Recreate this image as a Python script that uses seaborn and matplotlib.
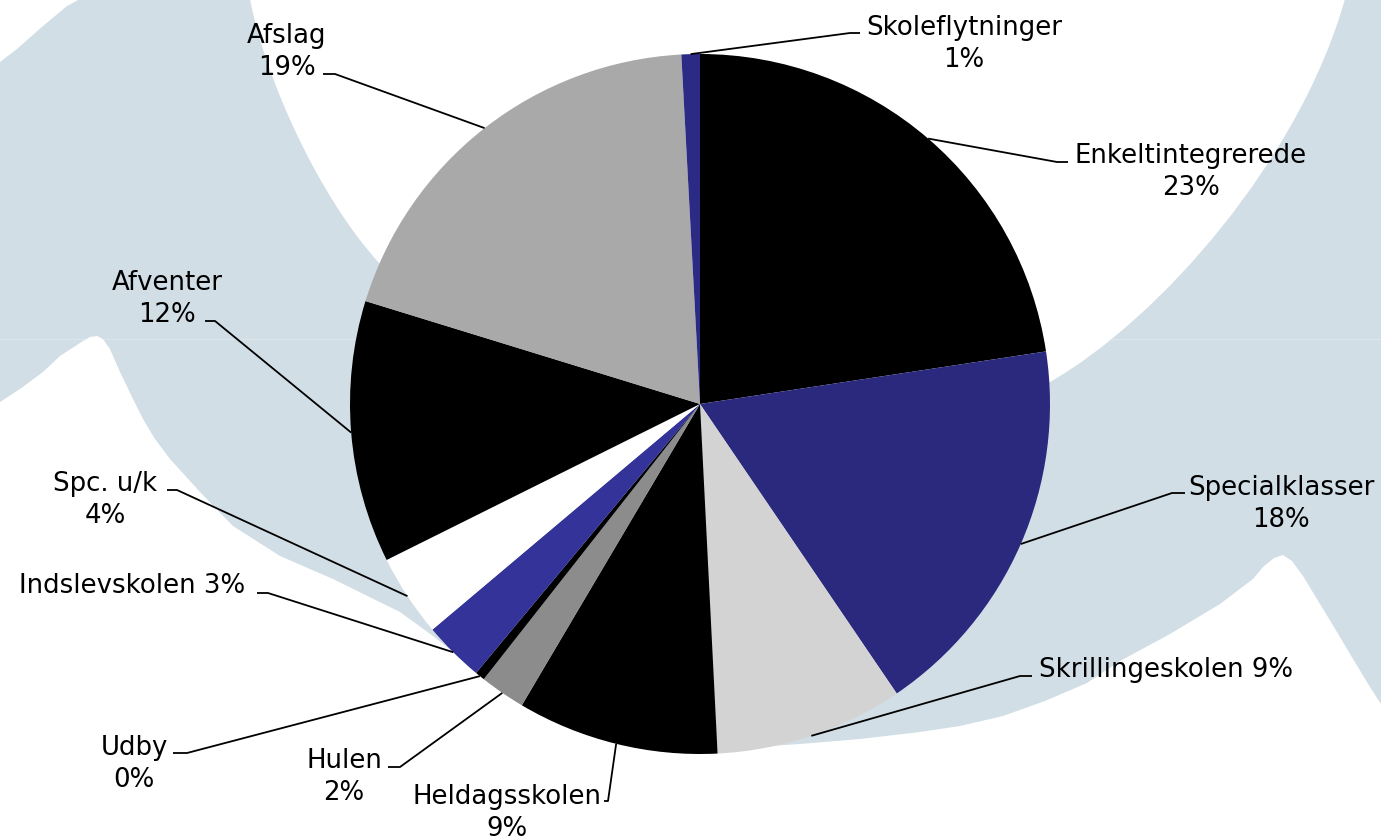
import numpy as np
import matplotlib
matplotlib.use("Agg")
import matplotlib.pyplot as plt
from matplotlib.path import Path
from matplotlib.patches import PathPatch
import seaborn as sns

# ---------------- data ----------------
categories = ["Enkeltintegrerede", "Specialklasser", "Skrillingeskolen",
              "Heldagsskolen", "Hulen", "Udby", "Indslevskolen", "Spc. u/k",
              "Afventer", "Afslag", "Skoleflytninger"]
values = [22.6, 17.9, 8.7, 9.3, 2.1, 0.45, 2.8, 3.8, 12.1, 19.4, 0.85]
colors = ["#000000", "#2A297E", "#D3D3D3", "#000000", "#8C8C8C", "#000000",
          "#333399", "#FFFFFF", "#000000", "#A9A9A9", "#2B2A85"]
separators = ["\n", "\n", " ", "\n", "\n", "\n", " ", "\n", "\n", "\n", "\n"]

# label layout in pixel coords: text centre x, first baseline y, elbow (x, y), stub end x
label_x = [1191, 1281, 1166, 507, 344, 134, 132, 105, 167, 287, 964]
label_y = [163, 495, 677, 804, 768, 755, 593, 491, 290, 43, 35]
elbow_x = [1057, 1172, 1020, 608, 400, 187, 268, 177, 215, 335, 850]
elbow_y = [163, 494, 677, 802, 768, 754, 594, 491, 322, 75, 34]
stub_x = [1068, 1185, 1032, 604, 388, 173, 257, 167, 205, 323, 860]

W, H = 1381, 837
sns.set_theme(style="white")
plt.rcParams['font.family'] = ['DejaVu Sans']

fig = plt.figure(figsize=(W / 100, H / 100), dpi=100)
fig.patch.set_facecolor("white")
ax = fig.add_axes([0, 0, 1, 1])


def P(x, y):
    return (x, H - y)


# ---------------- background watermark shape ----------------
verts = []
codes = []


def mv(p):
    verts.append(P(*p)); codes.append(Path.MOVETO)


def ln(*pts):
    for p in pts:
        verts.append(P(*p)); codes.append(Path.LINETO)


def cu(c1, c2, p):
    for q in (c1, c2, p):
        verts.append(P(*q)); codes.append(Path.CURVE4)


mv((80, 0))
ln((250, 0))
cu((265, 80), (320, 200), (380, 265))
ln((700, 405), (1050, 383))
cu((1160, 320), (1300, 160), (1345, 0))
ln((1381, 0), (1381, 705))
ln((1370, 688), (1353, 660), (1337, 633), (1320, 605), (1303, 577), (1292, 562),
   (1283, 556), (1274, 559), (1263, 568), (1253, 580), (1220, 605), (1170, 635),
   (1120, 662), (1087, 684), (1045, 702), (1003, 717), (960, 727), (920, 733),
   (860, 740), (800, 745), (740, 749))
ln((472, 668), (433, 637), (400, 613), (333, 580), (280, 557), (233, 527),
   (200, 493), (170, 460), (155, 440), (143, 420), (133, 400), (120, 373),
   (110, 350), (103, 340), (97, 337), (90, 338), (83, 342), (60, 357),
   (43, 373), (20, 390), (0, 403))
ln((0, 63), (17, 50), (43, 27), (67, 7), (80, 0))
verts.append(P(80, 0)); codes.append(Path.CLOSEPOLY)

bg = PathPatch(Path(verts, codes), facecolor="#D1DEE6", edgecolor="none", zorder=0)
ax.add_patch(bg)
seam, = ax.plot([0, W], [H - 340, H - 340], color="#DCE5EB", lw=0.8, zorder=0.5)
seam.set_clip_path(bg)

# ---------------- pie ----------------
cx, cy = P(700, 405)
R = 350
wedges, _ = ax.pie(values, colors=colors, startangle=90, counterclock=False,
                   center=(cx, cy), radius=R,
                   wedgeprops=dict(linewidth=0), frame=False)
for w in wedges:
    w.set_zorder(2)

ax.set_xlim(0, W)
ax.set_ylim(0, H)
ax.set_aspect("equal")
ax.axis("off")

total = sum(values)
for i, w in enumerate(wedges):
    mid = np.deg2rad((w.theta1 + w.theta2) / 2)
    sx, sy = cx + R * np.cos(mid), cy + R * np.sin(mid)
    ex, ey = P(elbow_x[i], elbow_y[i])
    tx = stub_x[i]
    ax.plot([sx, ex, tx], [sy, ey, ey], color="black", lw=1.3,
            solid_capstyle="butt", zorder=3)
    pct = f"{round(values[i] / total * 100)}%"
    text = categories[i] + separators[i] + pct
    for j, line in enumerate(text.split("\n")):
        ax.text(label_x[i], H - (label_y[i] + 32 * j), line, ha="center",
                va="baseline", fontsize=18.7, color="black", zorder=4)

fig.savefig("out.png", dpi=100, facecolor="white")
